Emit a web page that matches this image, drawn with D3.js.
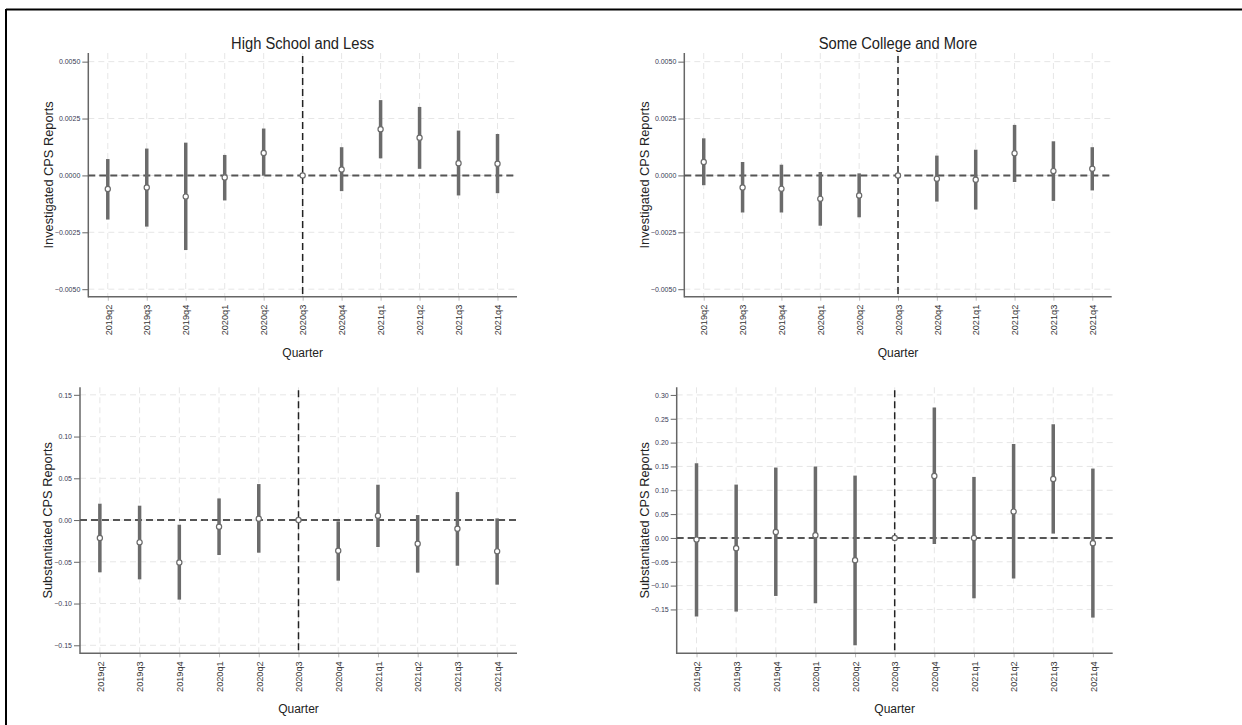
<!DOCTYPE html>
<html><head><meta charset="utf-8">
<script src="https://cdn.jsdelivr.net/npm/d3@7"></script>
<style>
html,body{margin:0;padding:0;background:#fff;}
svg{display:block;font-family:"Liberation Sans",Arial,sans-serif;}
</style></head>
<body><svg id="chart" width="1242" height="725"></svg>
<script>
const quarters = ["2019q2","2019q3","2019q4","2020q1","2020q2","2020q3","2020q4","2021q1","2021q2","2021q3","2021q4"];

// Investigated CPS Reports — High School and Less
const invHS_est = [-0.00060,-0.00053,-0.00093,-0.00009,0.00099,0,0.00026,0.00203,0.00166,0.00054,0.00051];
const invHS_lo  = [-0.00194,-0.00225,-0.00328,-0.00110,-0.00001,null,-0.00069,0.00075,0.00029,-0.00088,-0.00078];
const invHS_hi  = [0.00072,0.00118,0.00144,0.00090,0.00206,null,0.00124,0.00331,0.00301,0.00197,0.00182];

// Investigated CPS Reports — Some College and More
const invSC_est = [0.00059,-0.00053,-0.00059,-0.00103,-0.00088,0,-0.00015,-0.00019,0.00097,0.00019,0.00029];
const invSC_lo  = [-0.00043,-0.00163,-0.00163,-0.00221,-0.00184,null,-0.00115,-0.00150,-0.00029,-0.00112,-0.00066];
const invSC_hi  = [0.00163,0.00059,0.00047,0.00015,0.00009,null,0.00087,0.00113,0.00222,0.00150,0.00124];

// Substantiated CPS Reports — High School and Less
const subHS_est = [-0.0215,-0.0267,-0.0507,-0.0080,0.0016,0,-0.0367,0.0052,-0.0283,-0.0104,-0.0375];
const subHS_lo  = [-0.0626,-0.0710,-0.0953,-0.0419,-0.0391,null,-0.0726,-0.0323,-0.0630,-0.0547,-0.0774];
const subHS_hi  = [0.0196,0.0172,-0.0056,0.0259,0.0431,null,-0.0016,0.0423,0.0060,0.0335,0.0020];

// Substantiated CPS Reports — Some College and More
const subSC_est = [-0.0035,-0.0217,0.0126,0.0056,-0.0469,0,0.1301,0.0000,0.0552,0.1238,-0.0112];
const subSC_lo  = [-0.1650,-0.1545,-0.1217,-0.1370,-0.2252,null,-0.0126,-0.1266,-0.0853,0.0091,-0.1671];
const subSC_hi  = [0.1566,0.1119,0.1476,0.1497,0.1308,null,0.2734,0.1280,0.1972,0.2385,0.1455];

const invTicks = [-0.005,-0.0025,0,0.0025,0.005];
const subHSTicks = [-0.15,-0.10,-0.05,0,0.05,0.10,0.15];
const subSCTicks = [-0.15,-0.10,-0.05,0,0.05,0.10,0.15,0.20,0.25,0.30];

const titles = ["High School and Less","Some College and More"];
const yLabels = ["Investigated CPS Reports","Substantiated CPS Reports"];
const xLabel = "Quarter";
const eventQuarter = "2020q3";

const svg = d3.select("#chart");

// outer frame (top and left edges)
svg.append("line").attr("x1",6).attr("x2",1242).attr("y1",9.5).attr("y2",9.5).attr("stroke","#000").attr("stroke-width",2);
svg.append("line").attr("x1",6).attr("x2",6).attr("y1",9).attr("y2",725).attr("stroke","#000").attr("stroke-width",2);

const panels = [
  {L:88.3,R:517,T:53,B:296.7,dom:[-0.00533,0.00538],ticks:invTicks,fmt:".4f",est:invHS_est,lo:invHS_lo,hi:invHS_hi,title:titles[0],ylab:yLabels[0],ylx:49},
  {L:684.3,R:1111.7,T:53,B:296.7,dom:[-0.00533,0.00538],ticks:invTicks,fmt:".4f",est:invSC_est,lo:invSC_lo,hi:invSC_hi,title:titles[1],ylab:yLabels[0],ylx:644.3},
  {L:80,R:517,T:387.3,B:653.3,dom:[-0.1596,0.159],ticks:subHSTicks,fmt:".2f",est:subHS_est,lo:subHS_lo,hi:subHS_hi,title:null,ylab:yLabels[1],ylx:47.3},
  {L:676.7,R:1112.7,T:387.3,B:653.3,dom:[-0.242,0.316],ticks:subSCTicks,fmt:".2f",est:subSC_est,lo:subSC_lo,hi:subSC_hi,title:null,ylab:yLabels[1],ylx:644.3}
];

panels.forEach(p => {
  const g = svg.append("g");
  const x = d3.scalePoint().domain(quarters).range([p.L,p.R]).padding(0.5);
  const y = d3.scaleLinear().domain(p.dom).range([p.B,p.T]);

  // grid
  g.selectAll(".hg").data(p.ticks).join("line")
    .attr("x1",p.L).attr("x2",p.R).attr("y1",d=>y(d)).attr("y2",d=>y(d))
    .attr("stroke","#e6e6e6").attr("stroke-width",1).attr("stroke-dasharray","6,4");
  g.selectAll(".vg").data(quarters).join("line")
    .attr("x1",d=>x(d)).attr("x2",d=>x(d)).attr("y1",p.T).attr("y2",p.B)
    .attr("stroke","#e6e6e6").attr("stroke-width",1).attr("stroke-dasharray","6,4");

  // y axis
  const ya = d3.axisLeft(y).tickValues(p.ticks).tickFormat(d3.format(p.fmt)).tickSize(6).tickPadding(2);
  const yg = g.append("g").attr("transform",`translate(${p.L},0)`).call(ya);
  yg.select(".domain").remove();
  yg.selectAll(".tick line").attr("stroke","#666").attr("stroke-width",1);
  yg.selectAll(".tick text").attr("font-size",7).attr("fill","#3a3a55").attr("font-family","Liberation Sans, Arial, sans-serif");
  g.append("line").attr("x1",p.L).attr("x2",p.L).attr("y1",p.T).attr("y2",p.B+0.75).attr("stroke","#666").attr("stroke-width",1.5);

  // x axis
  const xa = d3.axisBottom(x).tickSize(4).tickPadding(0);
  const xg = g.append("g").attr("transform",`translate(0,${p.B})`).call(xa);
  xg.select(".domain").remove();
  xg.selectAll(".tick line").attr("stroke","#bbb").attr("stroke-width",1);
  xg.selectAll(".tick text")
    .attr("font-size",9.2).attr("fill","#333").attr("font-family","Liberation Sans, Arial, sans-serif")
    .attr("transform","rotate(-90)").attr("text-anchor","end")
    .attr("x",-8).attr("y",0).attr("dy","0.35em");
  g.append("line").attr("x1",p.L).attr("x2",p.R).attr("y1",p.B).attr("y2",p.B).attr("stroke","#666").attr("stroke-width",1.5);

  // zero reference line
  g.append("line").attr("x1",p.L).attr("x2",p.R).attr("y1",y(0)).attr("y2",y(0))
    .attr("stroke","#555").attr("stroke-width",2).attr("stroke-dasharray","7,4");
  // event line
  g.append("line").attr("x1",x(eventQuarter)).attr("x2",x(eventQuarter)).attr("y1",p.T+3).attr("y2",p.B)
    .attr("stroke","#222").attr("stroke-width",1.5).attr("stroke-dasharray","7,4");

  // CIs
  const rows = quarters.map((q,i)=>({q,est:p.est[i],lo:p.lo[i],hi:p.hi[i]}));
  g.selectAll(".ci").data(rows.filter(r=>r.lo!==null)).join("line")
    .attr("x1",d=>x(d.q)).attr("x2",d=>x(d.q)).attr("y1",d=>y(d.lo)).attr("y2",d=>y(d.hi))
    .attr("stroke","#6b6b6b").attr("stroke-width",3.5);
  g.selectAll(".pt").data(rows).join("circle")
    .attr("cx",d=>x(d.q)).attr("cy",d=>y(d.est)).attr("r",2.6)
    .attr("fill","#fff").attr("stroke","#6b6b6b").attr("stroke-width",1.2);

  // labels
  if (p.title) {
    g.append("text").attr("transform",`translate(${x(eventQuarter)},48.5) scale(0.92,1)`).attr("text-anchor","middle")
      .attr("font-size",16).attr("fill","#222").text(p.title);
  }
  g.append("text").attr("transform",`translate(${p.ylx},${(p.T+p.B)/2}) rotate(-90)`)
    .attr("text-anchor","middle").attr("dy","0.35em").attr("font-size",12.8).attr("fill","#222").text(p.ylab);
  g.append("text").attr("x",x(eventQuarter)).attr("y",p.B+60).attr("text-anchor","middle")
    .attr("font-size",12).attr("fill","#222").text(xLabel);
});
</script></body></html>
